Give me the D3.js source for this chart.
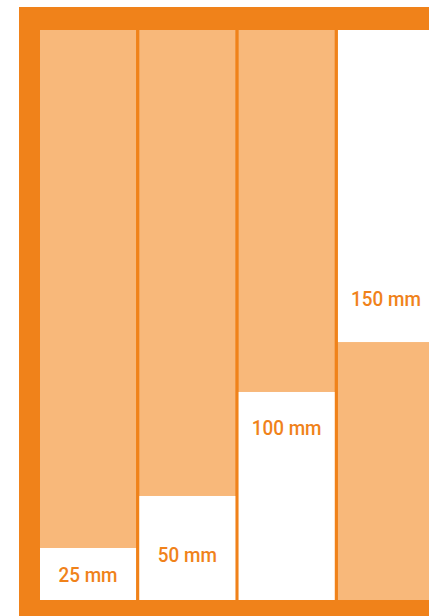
<!DOCTYPE html>
<html>
<head>
<meta charset="utf-8">
<script src="https://cdn.jsdelivr.net/npm/d3@7"></script>
<style>
  html, body { margin: 0; padding: 0; background: #fff; }
  svg { display: block; }
</style>
</head>
<body>
<svg id="chart" width="429" height="616"></svg>
<script>
// thickness of each layer, mm
const categories = ["25 mm", "50 mm", "100 mm", "150 mm"];
const thickness = [25, 50, 100, 150];
// which end of the column the white layer sits at
const anchor = ["bottom", "bottom", "bottom", "top"];
// height of each label's baseline above the column floor, mm
const labelAt = [8.7, 18.3, 79.3, 141.3];
const depth = 274; // full column height, mm

const orange = "#f0821a";
const light = "#f8b87a";

const svg = d3.select("#chart");

// frame
svg.append("rect")
	.attr("x", 19).attr("y", 7)
	.attr("width", 430).attr("height", 620)
	.attr("fill", orange);

const x = d3.scaleBand()
	.domain(categories)
	.range([40, 434])
	.paddingInner(0.033);

const y = d3.scaleLinear()
	.domain([0, depth])
	.range([600, 30]);

const col = svg.selectAll(".col")
	.data(categories.map((c, i) => ({name: c, mm: thickness[i], anchor: anchor[i], label: labelAt[i]})))
	.enter()
	.append("g")
	.attr("class", "col");

// background fill of the column
col.append("rect")
	.attr("x", d => x(d.name))
	.attr("y", y(depth))
	.attr("width", x.bandwidth())
	.attr("height", y(0) - y(depth))
	.attr("fill", light);

// white layer
col.append("rect")
	.attr("x", d => x(d.name))
	.attr("y", d => d.anchor === "bottom" ? y(d.mm) : y(depth))
	.attr("width", x.bandwidth())
	.attr("height", d => y(0) - y(d.mm))
	.attr("fill", "#fff");

// labels, slightly condensed
col.append("text")
	.attr("transform", d => `translate(${x(d.name) + x.bandwidth() / 2},${y(d.label)}) scale(0.9,1)`)
	.attr("text-anchor", "middle")
	.attr("font-family", "Roboto, 'Liberation Sans', sans-serif")
	.attr("font-weight", 500)
	.attr("font-size", 21)
	.attr("fill", orange)
	.text(d => d.name);
</script>
</body>
</html>
